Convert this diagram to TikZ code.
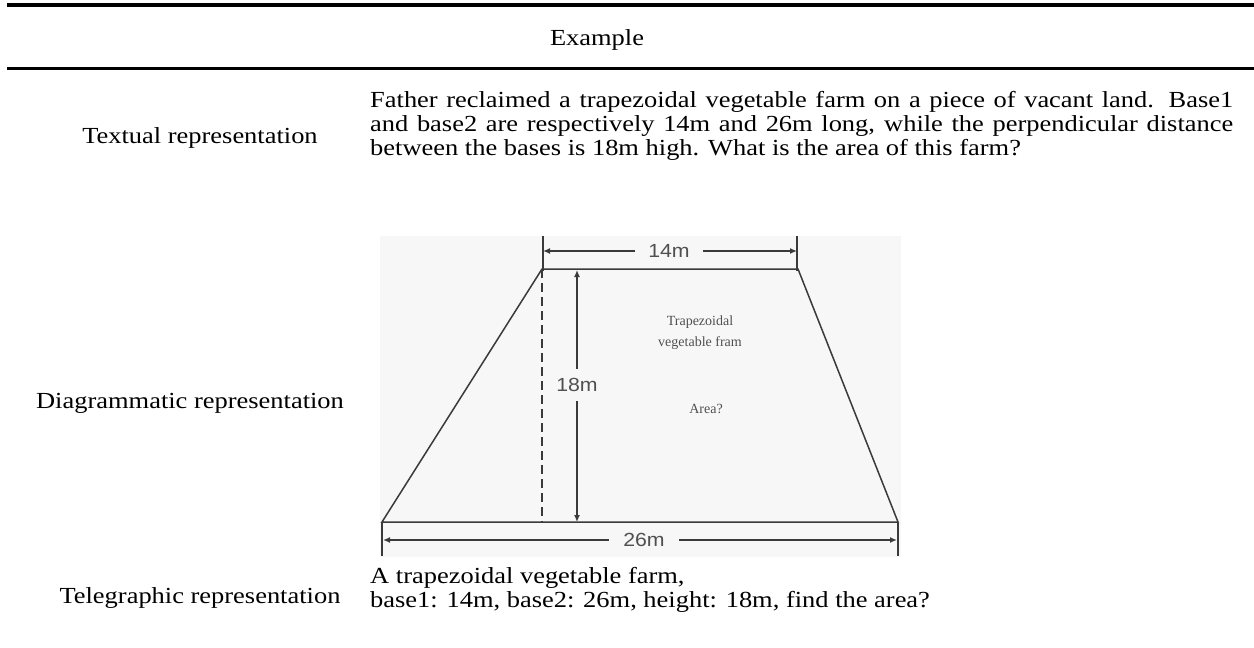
\documentclass[tikz,border=0pt]{standalone}
\usepackage{fontspec}
\setmainfont{Liberation Serif}[FakeStretch=1.15]
\newfontfamily\dimfont{Liberation Sans}[FakeStretch=1.12]
\newfontfamily\figfont{Liberation Serif}
\usetikzlibrary{arrows.meta}
\definecolor{dgray}{HTML}{3A3A3A}
\definecolor{tgray}{HTML}{505050}
\definecolor{bgray}{HTML}{F7F7F7}
\begin{document}
\begin{tikzpicture}[x=1pt,y=-1pt,
  txt/.style={font=\fontsize{23}{24}\selectfont, inner sep=0pt, anchor=base west},
  lbl/.style={font=\fontsize{23}{24}\selectfont, inner sep=0pt, anchor=base},
  edge/.style={draw=dgray, line width=1.5pt},
  dimline/.style={draw=dgray, line width=1.6pt, -{Latex[length=7pt,width=6pt]}},
  tick/.style={draw=dgray, line width=1.3pt},
  dimtxt/.style={font=\dimfont\fontsize{19}{20}\selectfont, text=tgray, inner sep=0pt},
  figtxt/.style={font=\figfont\fontsize{14}{21}\selectfont, text=tgray, inner sep=0pt, align=center}]
\useasboundingbox (0,0) rectangle (1254,648);
% rules
\draw[line width=4.5pt] (7,5) -- (1254,5);
\draw[line width=3pt] (7,68.5) -- (1254,68.5);
\node[lbl] (hdr) at (597,45) {Example};
% textual row
\node[lbl] (lab1) at (200,143) {Textual representation};
\node[txt] (t1) at (370,107) {\makebox[863pt][s]{Father reclaimed a trapezoidal vegetable farm on a piece of vacant land. Base1}};
\node[txt] (t2) at (370,131) {\makebox[863pt][s]{and base2 are respectively 14m and 26m long, while the perpendicular distance}};
\node[txt] (t3) at (370,155) {between the bases is 18m high. What is the area of this farm?};
% diagrammatic row
\node[lbl] (lab2) at (190,408) {Diagrammatic representation};
\fill[bgray] (380,236) rectangle (901,557);
\coordinate (TL) at (542,269);
\coordinate (TR) at (798,269);
\coordinate (BL) at (382,522);
\coordinate (BR) at (898,522);
\draw[edge] (BL) -- (TL) -- (TR) -- (BR) -- cycle;
\draw[edge, dash pattern=on 9pt off 5pt, line width=1.3pt] (TL) -- (TL|-BL);
% height
\coordinate (HT) at (577,270);
\coordinate (HB) at (577,522);
\node[dimtxt, minimum height=32pt] (h18) at (577,385) {18m};
\draw[dimline] (h18.north) -- (HT);
\draw[dimline] (h18.south) -- (HB);
% top dimension
\draw[tick] (543,236) -- (543,271);
\draw[tick] (797,236) -- (797,271);
\coordinate (D14L) at (543,251);
\coordinate (D14R) at (797,251);
\node[dimtxt, minimum width=68pt] (d14) at (669,251) {14m};
\draw[dimline] (d14.west) -- (D14L);
\draw[dimline] (d14.east) -- (D14R);
% bottom dimension
\draw[tick] (382,522) -- (382,556);
\draw[tick] (898,522) -- (898,556);
\coordinate (D26L) at (383,540);
\coordinate (D26R) at (897,540);
\node[dimtxt, minimum width=70pt] (d26) at (644,540) {26m};
\draw[dimline] (d26.west) -- (D26L);
\draw[dimline] (d26.east) -- (D26R);
% inner labels
\node[figtxt] (farm) at (700,333) {Trapezoidal\\vegetable fram};
\node[figtxt] (area) at (706,409) {Area?};
% telegraphic row
\node[lbl] (lab3) at (200,603) {Telegraphic representation};
\node[txt] (g1) at (370,583) {A trapezoidal vegetable farm,};
\node[txt] (g2) at (370,607) {base1: 14m, base2: 26m, height: 18m, find the area?};
\end{tikzpicture}
\end{document}
